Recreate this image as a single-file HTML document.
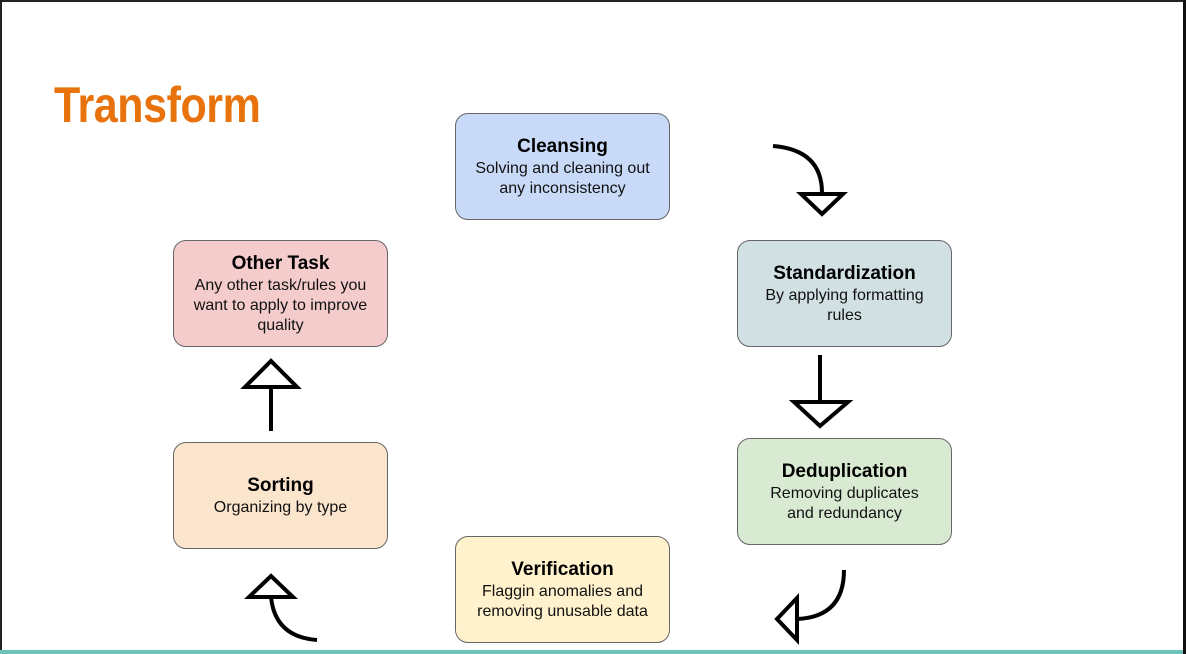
<!DOCTYPE html>
<html><head><meta charset="utf-8"><style>
*{margin:0;padding:0;box-sizing:border-box}
body{width:1186px;height:654px;background:#fff;position:relative;overflow:hidden;font-family:"Liberation Sans",Arial,sans-serif}
.bt{position:absolute;left:0;top:0;width:1186px;height:2px;background:#222}
.bl{position:absolute;left:0;top:0;width:2px;height:654px;background:#222}
.br{position:absolute;right:0;top:0;width:3px;height:654px;background:#111}
.bb{position:absolute;left:0;top:650px;width:1183px;height:4px;background:#6cc3b8}
.title{position:absolute;left:54px;top:76px;font-size:50px;font-weight:bold;color:#e8730c;transform:scaleX(0.86);transform-origin:left top;letter-spacing:-0.5px}
.box{position:absolute;width:215px;height:107px;border:1px solid #666;border-radius:13px;display:flex;flex-direction:column;justify-content:center;align-items:center;text-align:center;font-size:16px;line-height:20px;color:#111}
.box b{font-size:19px;line-height:24px;color:#000}
</style></head><body>
<div class="bt"></div><div class="bl"></div><div class="br"></div><div class="bb"></div>
<div class="title">Transform</div>
<div class="box" style="left:455px;top:113px;background:#c9daf8"><b>Cleansing</b>Solving and cleaning out<br>any inconsistency</div>
<div class="box" style="left:173px;top:240px;background:#f4cccc"><b>Other Task</b>Any other task/rules you<br>want to apply to improve<br>quality</div>
<div class="box" style="left:737px;top:240px;background:#d0e0e3"><b>Standardization</b>By applying formatting<br>rules</div>
<div class="box" style="left:737px;top:438px;background:#d9ead3"><b>Deduplication</b>Removing duplicates<br>and redundancy</div>
<div class="box" style="left:173px;top:442px;background:#fce5cd"><b>Sorting</b>Organizing by type</div>
<div class="box" style="left:455px;top:536px;background:#fff2cc"><b>Verification</b>Flaggin anomalies and<br>removing unusable data</div>
<svg width="1186" height="654" style="position:absolute;left:0;top:0" fill="none" stroke="#000" stroke-width="4">
<path d="M773 146 Q822 150 822 193"/>
<polygon points="801,194 843,194 822,214" fill="#fff"/>
<path d="M820 355 V401"/>
<polygon points="794,402 848,402 820,426" fill="#fff"/>
<path d="M844 570 Q844 617 797 619"/>
<polygon points="797,598 797,640 777,619" fill="#fff"/>
<path d="M317 640 Q275 637 271 597"/>
<polygon points="249,597 293,597 271,576" fill="#fff"/>
<path d="M271 431 V388"/>
<polygon points="245,387 297,387 271,361" fill="#fff"/>
</svg>
</body></html>
